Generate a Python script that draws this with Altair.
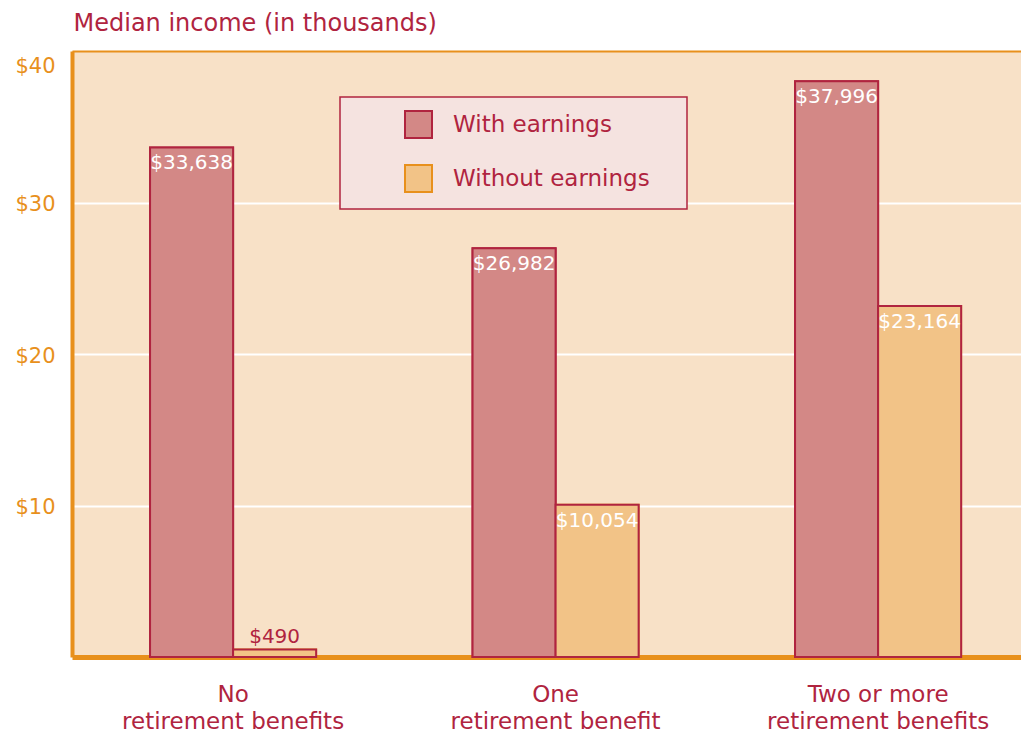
import altair as alt
import pandas as pd

# ---- data (median income, in thousands of dollars) ----
categories = ["No|retirement benefits", "One|retirement benefit", "Two or more|retirement benefits"]
series = ["With earnings", "Without earnings"]
with_earnings = [33.638, 26.982, 37.996]
without_earnings = [0.490, 10.054, 23.164]
y_ticks = [10, 20, 30, 40]

rows = []
for i, c in enumerate(categories):
    rows.append({"cat": c, "series": series[0], "value": with_earnings[i]})
    rows.append({"cat": c, "series": series[1], "value": without_earnings[i]})
df = pd.DataFrame(rows)

CRIMSON = "#B0243F"
ORANGE = "#E8901C"
WITH_FILL = "#D38886"
WITHOUT_FILL = "#F2C387"
BG = "#F8E1C7"
LEGEND_BG = "#F5E3E0"
FONT = "DejaVu Sans"
FW = 400

x = alt.X(
    "cat:N", sort=categories,
    scale=alt.Scale(paddingInner=0.485, paddingOuter=0.2138, align=0.566),
    axis=alt.Axis(title=None, labelExpr="split(datum.label, '|')", labelAngle=0,
                  labelFont=FONT, labelFontSize=23, labelFontWeight=FW, labelColor=CRIMSON,
                  labelLineHeight=27, labelPadding=26, labelLimit=600, ticks=False,
                  domainColor=ORANGE, domainWidth=5, grid=False),
)
xo = alt.XOffset("series:N", sort=series, scale=alt.Scale(paddingInner=0, paddingOuter=0))
y = alt.Y(
    "value:Q",
    scale=alt.Scale(domain=[0, 40], nice=False),
    axis=alt.Axis(
        values=y_ticks, labelExpr="'$' + datum.value",
        title="Median income (in thousands)", titleAngle=0, titleAlign="left",
        titleBaseline="alphabetic", titleX=1, titleY=-21, titleFont=FONT,
        titleFontSize=24, titleFontWeight=FW, titleColor=CRIMSON,
        labelFont=FONT, labelFontSize=21, labelFontWeight=FW, labelColor=ORANGE, labelPadding=17,
        labelOffset={"condition": {"test": "datum.value === 40", "value": 15}, "value": 2},
        ticks=False, domainColor=ORANGE, domainWidth=4,
        gridColor={"condition": {"test": "datum.value === 40", "value": ORANGE}, "value": "white"},
        gridWidth=2,
    ),
)

legend = alt.Legend(
    title=None, orient="none", legendX=268, legendY=46, direction="vertical",
    symbolType="square", symbolSize=729, symbolStrokeWidth=2,
    symbolOffset=51, labelOffset=20, rowPadding=19, padding=13,
    fillColor=LEGEND_BG, strokeColor=CRIMSON,
    labelFont=FONT, labelFontSize=23, labelFontWeight=FW, labelColor=CRIMSON, labelLimit=500,
    labelExpr="datum.label + '\u00a0\u2800'",
)

fill = alt.Fill("series:N", sort=series,
                scale=alt.Scale(domain=series, range=[WITH_FILL, WITHOUT_FILL]),
                legend=legend)
stroke = alt.Stroke("series:N", sort=series,
                    scale=alt.Scale(domain=series, range=[CRIMSON, ORANGE]),
                    legend=legend)

# base bars carry the stroke scale (used for the legend swatches)
bars_base = alt.Chart(df).mark_bar(strokeWidth=2).encode(
    x=x, xOffset=xo, y=y, fill=fill, stroke=stroke,
)
# visible bars: every bar outlined in crimson
bars = alt.Chart(df).mark_bar(stroke=CRIMSON, strokeWidth=2).encode(
    x=x, xOffset=xo, y=y, fill=fill,
)

base_text = alt.Chart(df).transform_calculate(dollars="datum.value * 1000")

labels_in = base_text.transform_filter("datum.value >= 5").mark_text(
    color="white", baseline="top", dy=6, font=FONT, fontSize=20, fontWeight=FW
).encode(x=x, xOffset=xo, y=y, text=alt.Text("dollars:Q", format="$,.0f"))

labels_out = base_text.transform_filter("datum.value < 5").mark_text(
    color=CRIMSON, baseline="bottom", dy=-3, font=FONT, fontSize=20, fontWeight=FW
).encode(x=x, xOffset=xo, y=y, text=alt.Text("dollars:Q", format="$,.0f"))

chart = alt.layer(bars_base, bars, labels_in, labels_out).properties(
    width=949, height=606,
    padding={"left": 64, "top": 43, "right": 0, "bottom": 78},
    autosize=alt.AutoSizeParams(type="none"),
    background="white",
).configure_view(fill=BG, stroke=None).configure_legend(strokeWidth=1.5)

chart.save("out.html", embed_options={"renderer": "svg", "actions": False})
